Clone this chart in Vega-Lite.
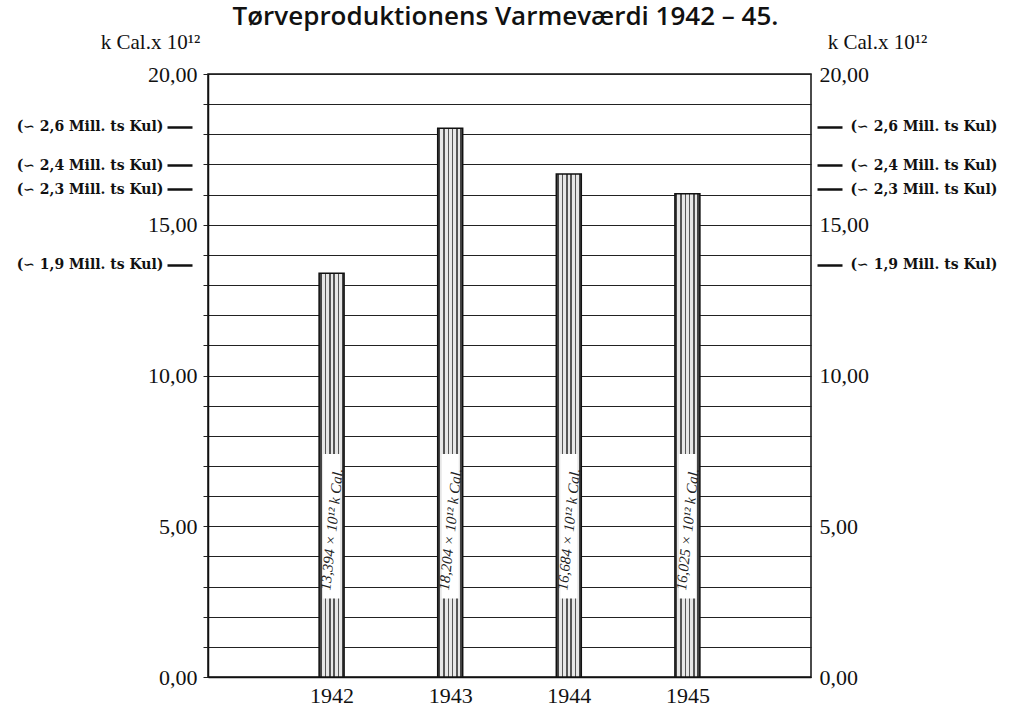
{
  "$schema": "https://vega.github.io/schema/vega-lite/v6.json",
  "autosize": {"type": "none"},
  "width": 603,
  "height": 603,
  "padding": {"left": 208, "top": 74, "right": 201, "bottom": 40},
  "background": "#ffffff",
  "config": {
    "view": {"stroke": "#111111", "strokeWidth": 1.5},
    "axis": {"labelFont": "Liberation Serif", "titleFont": "Liberation Serif", "labelColor": "#111111", "titleColor": "#111111", "labelFlush": false, "labelOverlap": false}
  },
  "title": {
    "text": "Tørveproduktionens Varmeværdi 1942 – 45.",
    "font": "Open Sans",
    "fontSize": 26,
    "fontWeight": 600,
    "color": "#111111",
    "anchor": "middle",
    "frame": "group",
    "dx": -4,
    "offset": 1
  },
  "data": {
    "values": [
      {"year": 1942, "kcal": 13.394, "label": "13,394 × 10¹² k Cal."},
      {"year": 1943, "kcal": 18.204, "label": "18,204 × 10¹² k Cal."},
      {"year": 1944, "kcal": 16.684, "label": "16,684 × 10¹² k Cal."},
      {"year": 1945, "kcal": 16.025, "label": "16,025 × 10¹² k Cal."}
    ]
  },
  "encoding": {
    "x": {
      "field": "year", "type": "quantitative",
      "scale": {"domain": [1941, 1946], "nice": false, "zero": false},
      "axis": {"orient": "bottom", "values": [1942, 1943, 1944, 1945], "format": "d", "grid": false, "ticks": false, "domain": true, "domainColor": "#111111", "domainWidth": 1.5, "labelFontSize": 22, "labelPadding": 8, "title": null}
    }
  },
  "layer": [
    {
      "mark": {
        "type": "bar",
        "size": 25,
        "stroke": "#111111",
        "strokeWidth": 1.5,
        "fill": {
          "gradient": "linear", "x1": 0, "x2": 1, "y1": 0, "y2": 0,
          "stops": [
            {"offset": 0, "color": "#444444"},
            {"offset": 0.1, "color": "#444444"},
            {"offset": 0.1, "color": "#e6e6e6"},
            {"offset": 0.22, "color": "#e6e6e6"},
            {"offset": 0.22, "color": "#555555"},
            {"offset": 0.28, "color": "#555555"},
            {"offset": 0.28, "color": "#e6e6e6"},
            {"offset": 0.4, "color": "#e6e6e6"},
            {"offset": 0.4, "color": "#555555"},
            {"offset": 0.46, "color": "#555555"},
            {"offset": 0.46, "color": "#e6e6e6"},
            {"offset": 0.56, "color": "#e6e6e6"},
            {"offset": 0.56, "color": "#555555"},
            {"offset": 0.62, "color": "#555555"},
            {"offset": 0.62, "color": "#e6e6e6"},
            {"offset": 0.74, "color": "#e6e6e6"},
            {"offset": 0.74, "color": "#555555"},
            {"offset": 0.8, "color": "#555555"},
            {"offset": 0.8, "color": "#e6e6e6"},
            {"offset": 0.9, "color": "#e6e6e6"},
            {"offset": 0.9, "color": "#444444"},
            {"offset": 1, "color": "#444444"}
          ]
        }
      },
      "encoding": {
        "y": {
          "field": "kcal", "type": "quantitative",
          "scale": {"domain": [0, 20], "nice": false, "zero": true},
          "axis": {
            "orient": "left",
            "values": [0,1,2,3,4,5,6,7,8,9,10,11,12,13,14,15,16,17,18,19,20],
            "labelExpr": "datum.value % 5 == 0 ? replace(format(datum.value, '.2f'), '.', ',') : ''",
            "grid": true, "gridColor": "#222222", "gridWidth": 1,
            "domain": true, "domainColor": "#111111", "domainWidth": 1.5,
            "ticks": true, "tickSize": 5, "tickColor": "#222222",
            "labelFontSize": 22, "labelPadding": 6,
            "title": "k Cal.x 10¹²", "titleAngle": 0, "titleAlign": "center", "titleBaseline": "middle",
            "titleX": -58, "titleY": -32, "titleFontSize": 21, "titleFontWeight": "normal"
          }
        }
      }
    },
    {
      "mark": {"type": "bar", "size": 17, "fill": "#ffffff", "stroke": null},
      "encoding": {
        "y": {"datum": 2.6, "type": "quantitative", "axis": null},
        "y2": {"datum": 7.4}
      }
    },
    {
      "mark": {"type": "text", "angle": -84, "font": "Liberation Serif", "fontStyle": "italic", "fontSize": 15, "color": "#222222", "align": "center", "baseline": "middle"},
      "encoding": {
        "y": {"datum": 4.9, "type": "quantitative", "axis": null},
        "text": {"field": "label"}
      }
    },
    {
      "mark": {"type": "point", "opacity": 0},
      "encoding": {
        "y": {
          "field": "kcal", "type": "quantitative",
          "axis": {
            "orient": "right",
            "values": [0, 5, 10, 15, 20],
            "labelExpr": "replace(format(datum.value, '.2f'), '.', ',')",
            "grid": false, "domain": false, "ticks": false,
            "labelFontSize": 22, "labelPadding": 8,
            "title": "k Cal.x 10¹²", "titleAngle": 0, "titleAlign": "center", "titleBaseline": "middle",
            "titleX": 66, "titleY": -32, "titleFontSize": 21, "titleFontWeight": "normal"
          }
        }
      }
    },
    {
      "mark": {"type": "point", "opacity": 0},
      "encoding": {
        "y": {
          "field": "kcal", "type": "quantitative",
          "axis": {
            "orient": "left", "offset": 16,
            "values": [18.25, 16.98, 16.18, 13.68],
            "labelExpr": "datum.value == 18.25 ? '(∽ 2,6 Mill. ts Kul)' : datum.value == 16.98 ? '(∽ 2,4 Mill. ts Kul)' : datum.value == 16.18 ? '(∽ 2,3 Mill. ts Kul)' : '(∽ 1,9 Mill. ts Kul)'",
            "grid": false, "domain": false,
            "ticks": true, "tickSize": 25, "tickWidth": 2.5, "tickColor": "#111111",
            "labelFont": "DejaVu Serif", "labelFontSize": 14, "labelFontWeight": "bold", "labelPadding": 4,
            "title": null
          }
        }
      }
    },
    {
      "mark": {"type": "point", "opacity": 0},
      "encoding": {
        "y": {
          "field": "kcal", "type": "quantitative",
          "axis": {
            "orient": "right", "offset": 6,
            "values": [18.25, 16.98, 16.18, 13.68],
            "labelExpr": "datum.value == 18.25 ? '(∽ 2,6 Mill. ts Kul)' : datum.value == 16.98 ? '(∽ 2,4 Mill. ts Kul)' : datum.value == 16.18 ? '(∽ 2,3 Mill. ts Kul)' : '(∽ 1,9 Mill. ts Kul)'",
            "grid": false, "domain": false,
            "ticks": true, "tickSize": 25, "tickWidth": 2.5, "tickColor": "#111111",
            "labelFont": "DejaVu Serif", "labelFontSize": 14, "labelFontWeight": "bold", "labelPadding": 8,
            "title": null
          }
        }
      }
    }
  ],
  "resolve": {"axis": {"y": "independent"}}
}
